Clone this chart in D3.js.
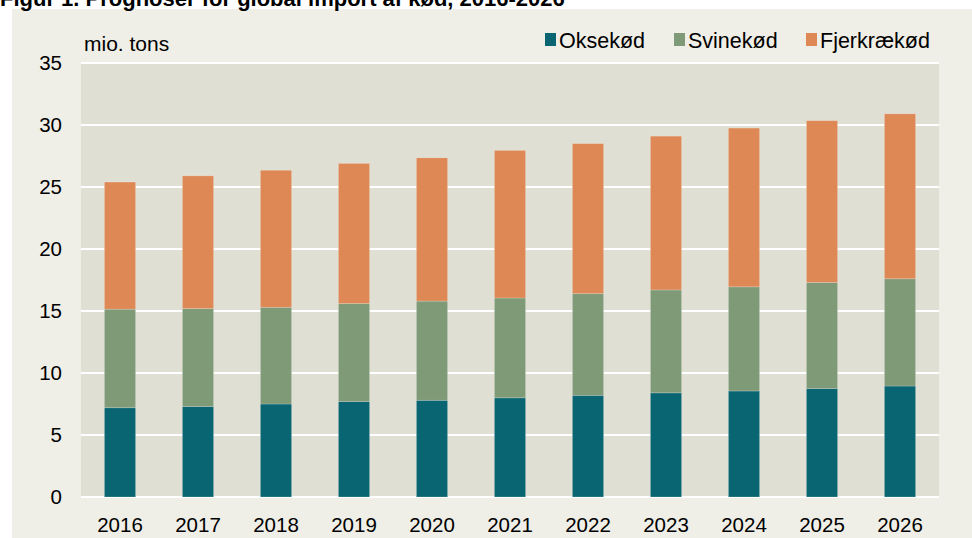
<!DOCTYPE html>
<html><head><meta charset="utf-8">
<script src="https://cdn.jsdelivr.net/npm/d3@7"></script>
<style>body{margin:0;background:#fff}svg{display:block;font-family:"Liberation Sans",Arial,sans-serif}</style>
</head><body><svg id="c" width="972" height="538"></svg>
<script>
const years = ["2016","2017","2018","2019","2020","2021","2022","2023","2024","2025","2026"];
const oksekod = [7.2, 7.3, 7.5, 7.7, 7.8, 8.0, 8.2, 8.4, 8.55, 8.75, 8.95];
const svinekod = [7.95, 7.9, 7.8, 7.9, 8.0, 8.05, 8.2, 8.3, 8.4, 8.55, 8.65];
const fjerkraekod = [10.25, 10.7, 11.05, 11.3, 11.55, 11.9, 12.1, 12.4, 12.8, 13.05, 13.3];
const seriesNames = ["Oksekød","Svinekød","Fjerkrækød"];
const colors = ["#0a6572","#7f9a77","#dd8855"];
const yTicks = [0,5,10,15,20,25,30,35];

const svg = d3.select("#c");
svg.append("rect").attr("x",12).attr("y",9).attr("width",960).attr("height",529).attr("fill","#efeee7");
svg.append("text").attr("x",0).attr("y",6).attr("font-size",22).attr("font-weight","bold").attr("fill","#000")
  .text("Figur 1. Prognoser for global import af kød, 2016-2026");

const L=81,R=939,T=63,B=497;
const x = d3.scaleBand().domain(years).range([L,R]).paddingInner(0.6).paddingOuter(0.3);
const y = d3.scaleLinear().domain([0,35]).range([B,T]);

svg.append("rect").attr("x",L).attr("y",T).attr("width",R-L).attr("height",B-T).attr("fill","#e0dfd4");
svg.append("g").selectAll("line").data(yTicks).join("line")
  .attr("x1",L).attr("x2",R).attr("y1",d=>y(d)).attr("y2",d=>y(d))
  .attr("stroke","#fff").attr("stroke-width",2);

const table = years.map((yr,i)=>({year:yr,"Oksekød":oksekod[i],"Svinekød":svinekod[i],"Fjerkrækød":fjerkraekod[i]}));
const stack = d3.stack().keys(seriesNames)(table);
svg.append("g").selectAll("g").data(stack).join("g").attr("fill",(d,i)=>colors[i])
  .selectAll("rect").data(d=>d).join("rect")
  .attr("x",d=>x(d.data.year)).attr("width",x.bandwidth())
  .attr("y",d=>y(d[1])).attr("height",d=>y(d[0])-y(d[1]))
  .attr("stroke","rgba(255,255,255,0.25)").attr("stroke-width",0.8);

const yAxis = d3.axisLeft(y).tickValues(yTicks).tickSize(0).tickPadding(19);
const gy = svg.append("g").attr("transform",`translate(${L},0)`).call(yAxis);
gy.select(".domain").remove();
gy.selectAll("text").attr("font-size",20.5).attr("font-family","Liberation Sans, Arial, sans-serif").attr("fill","#000");

const xAxis = d3.axisBottom(x).tickSize(0).tickPadding(20);
const gx = svg.append("g").attr("transform",`translate(0,${B})`).call(xAxis);
gx.select(".domain").remove();
gx.selectAll("text").attr("font-size",20.5).attr("font-family","Liberation Sans, Arial, sans-serif").attr("fill","#000");

svg.append("text").attr("x",84).attr("y",51).attr("font-size",21).attr("fill","#000").text("mio. tons");

const legX=[545,674,806];
const lg = svg.append("g").selectAll("g").data(seriesNames).join("g")
  .attr("transform",(d,i)=>`translate(${legX[i]},0)`);
lg.append("rect").attr("x",0).attr("y",33).attr("width",11).attr("height",13).attr("fill",(d,i)=>colors[i]);
lg.append("text").attr("x",14).attr("y",48).attr("font-size",21.5).attr("fill","#000").text(d=>d);
</script></body></html>
